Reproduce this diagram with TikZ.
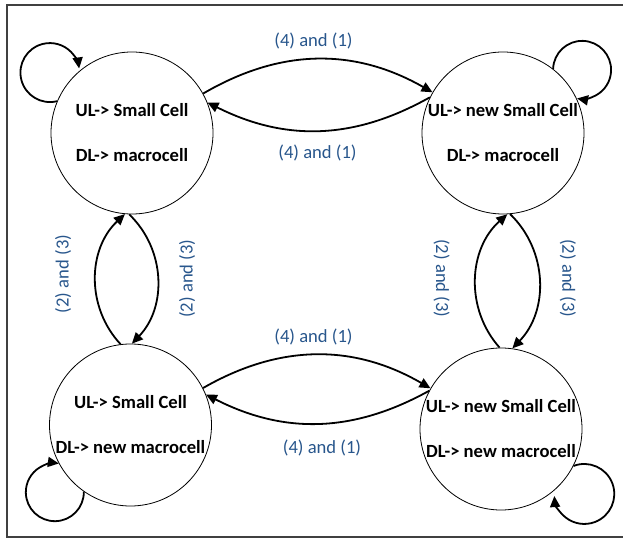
\documentclass[tikz,border=0pt]{standalone}
\usepackage{fontspec}
\setmainfont{Carlito}
\usepackage{tikz}
\usetikzlibrary{arrows.meta}
\usepackage{xcolor}
\definecolor{condblue}{RGB}{40,86,140}
\definecolor{framegray}{RGB}{64,64,64}

\tikzset{
  cell/.style={circle,draw,line width=0.8pt,minimum size=162pt,inner sep=0pt,
    align=center,font=\bfseries\fontsize{18.6}{45}\selectfont},
  move/.style={line width=1.8pt,-{Triangle[length=11pt,width=10pt]}},
  cond/.style={text=condblue,font=\fontsize{18.6}{22}\selectfont,inner sep=0pt}
}

\begin{document}
\begin{tikzpicture}[x=1pt,y=1pt]
    \useasboundingbox (0,0) rectangle (623,538);
    \draw[framegray,line width=1.6pt] (623,533) -- (7,533) -- (7,1) -- (623,1);
    % the four states
    \node[cell] (tl) at (132,405) {UL-> Small Cell\\DL-> macrocell};
    \node[cell] (tr) at (503,405) {UL-> new Small Cell\\DL-> macrocell};
    \node[cell] (bl) at (130.5,113) {UL-> Small Cell\\DL-> new macrocell};
    \node[cell] (br) at (501,109) {UL-> new Small Cell\\DL-> new macrocell};
    % horizontal moves
    \draw[move] (tl.29) to[bend left=30] (tr.150);
    \draw[move] (tr.154) to[bend left=28] (tl.22);
    \draw[move] (bl.27) to[bend left=30] (br.150);
    \draw[move] (br.152) to[bend left=28] (bl.22);
    % vertical moves
    \draw[move] (bl.97) to[bend left=45] (tl.265);
    \draw[move] (tl.268) to[bend left=45] (bl.89);
    \draw[move] (br.91) to[bend left=45] (tr.273);
    \draw[move] (tr.275) to[bend left=45] (br.82);
    % self loops
    \draw[move] (tl.157) arc[start angle=-76,end angle=-352,radius=29.5];
    \draw[move] (tr.52) arc[start angle=178,end angle=-100,radius=29];
    \draw[move] (bl.235) arc[start angle=1,end angle=-278,radius=29];
    \draw[move] (br.333) arc[start angle=111,end angle=-176,radius=30];
    % conditions
    \node[cond] (c1) at (313.5,497) {(4) and (1)};
    \node[cond] (c2) at (317.5,385) {(4) and (1)};
    \node[cond] (c3) at (313.5,201) {(4) and (1)};
    \node[cond] (c4) at (322,90) {(4) and (1)};
    \node[cond,rotate=90] (c5) at (63,264) {(2) and (3)};
    \node[cond,rotate=90] (c6) at (187,259.5) {(2) and (3)};
    \node[cond,rotate=-90] (c7) at (441.7,259.5) {(2) and (3)};
    \node[cond,rotate=-90] (c8) at (568,259.5) {(2) and (3)};
\end{tikzpicture}
\end{document}
